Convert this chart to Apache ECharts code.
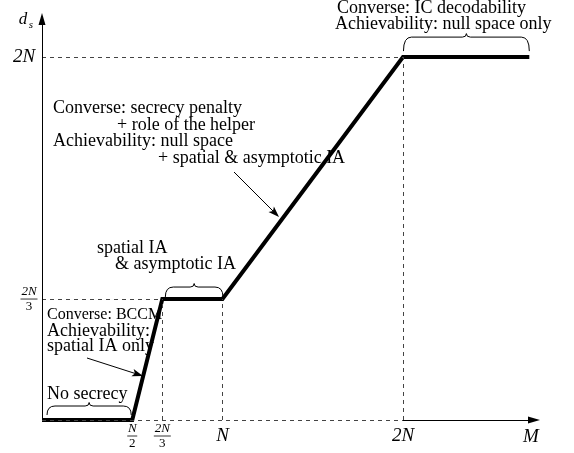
<!DOCTYPE html>
<html><head><meta charset="utf-8">
<script src="https://cdn.jsdelivr.net/npm/echarts@6/dist/echarts.min.js"></script>
<style>html,body{margin:0;padding:0;background:#fff}#c{width:574px;height:453px}</style>
</head><body><div id="c"></div>
<script>
// ---- data ----
const M  = [0, 0.5, 2/3, 1, 2, 2.7];        // x (in units of N)
const ds = [0, 0, 2/3, 2/3, 2, 2];          // d_s (in units of N)
const xTickValues = [0.5, 2/3, 1, 2];
const xTickLabels = [['N','2'], ['2N','3'], 'N', '2N'];
const yTickValues = [2/3, 2];
const yTickLabels = [['2N','3'], '2N'];
const xName = 'M';
const yName = 'd', yNameSub = 's';
const xMax = 2.726, yMax = 2.21;

const serif = '"Liberation Serif","Times New Roman",serif';
const chart = echarts.init(document.getElementById('c'));

const dash = {color:'#444', width:1, type:[4,4]};
const solid = {color:'#000', width:1, type:'solid'};
function seg(a, b, style, endSym){
  return [
    {coord:a, symbol:'none', lineStyle:style},
    {coord:b, symbol:endSym || 'none', symbolSize:[7,12]}
  ];
}
// guides from the curve's kink points
const guideData = [
  seg([0, ds[4]], [M[4], ds[4]], dash),
  seg([M[4], 0], [M[4], ds[4]], dash),
  seg([0, ds[2]], [M[2], ds[2]], dash),
  seg([M[2], 0], [M[2], ds[2]], dash),
  seg([M[3], 0], [M[3], ds[3]], dash),
  seg([0, 0], [M[4], 0], dash),
  seg([M[4], 0], [xMax, 0], solid, 'triangle'),
  seg([0, 0], [0, yMax], solid, 'triangle')
];

chart.setOption({
  animation:false,
  backgroundColor:'#fff',
  grid:{left:42, right:40, top:19, bottom:33, containLabel:false},
  xAxis:{type:'value', min:0, max:xMax, axisLine:{show:false}, axisTick:{show:false}, axisLabel:{show:false}, splitLine:{show:false}},
  yAxis:{type:'value', min:0, max:yMax, axisLine:{show:false}, axisTick:{show:false}, axisLabel:{show:false}, splitLine:{show:false}},
  series:[
    {type:'line', z:1, data:[], clip:false, silent:true,
     markLine:{silent:true, animation:false, label:{show:false}, emphasis:{disabled:true}, symbol:['none','none'], data:guideData}},
    {type:'line', z:3, clip:false, silent:true, symbol:'none',
     data:M.map((m,i)=>[m, ds[i]]),
     lineStyle:{color:'#000', width:4, join:'miter', cap:'butt'}}
  ]
});

const P = (x,y)=>chart.convertToPixel({gridIndex:0},[x,y]);
const g = [];
function txt(t, x, y, size){
  g.push({type:'text', x, y, z:10, silent:true,
    style:{text:t, font:size+'px '+serif, fill:'#000', align:'left', verticalAlign:'middle'}});
}
function hline(x1,x2,y){ g.push({type:'line', z:10, silent:true, shape:{x1,y1:y,x2,y2:y}, style:{stroke:'#000', lineWidth:0.8}}); }
function label(lab, cx, cy, big, small){
  if (Array.isArray(lab)){
    const w = lab[0].length>1 ? 17 : 10;
    hline(cx-w/2, cx+w/2, cy);
    g.push({type:'text', x:cx, y:cy-7, z:10, style:{text:lab[0], font:'italic '+small+'px '+serif, fill:'#000', align:'center', verticalAlign:'middle'}});
    g.push({type:'text', x:cx, y:cy+7.5, z:10, style:{text:lab[1], font:small+'px '+serif, fill:'#000', align:'center', verticalAlign:'middle'}});
  } else {
    g.push({type:'text', x:cx, y:cy, z:10, style:{text:lab, font:'italic '+big+'px '+serif, fill:'#000', align:'center', verticalAlign:'middle'}});
  }
}
// x tick labels
xTickValues.forEach((v,i)=>{ const p=P(v,0); label(xTickLabels[i], p[0], 436, 19, 13); });
// y tick labels
yTickValues.forEach((v,i)=>{ const p=P(0,v); label(yTickLabels[i], Array.isArray(yTickLabels[i])?29:24, p[1], 19, 13); });
// axis names
{ const p=P(xMax,0); g.push({type:'text', x:p[0]-3, y:437, z:10, style:{text:xName, font:'italic 19px '+serif, fill:'#000', align:'center', verticalAlign:'middle'}}); }
g.push({type:'text', x:23, y:20, z:10, style:{text:yName, font:'italic 17px '+serif, fill:'#000', align:'center', verticalAlign:'middle'}});
g.push({type:'text', x:31, y:25, z:10, style:{text:yNameSub, font:'italic 11px '+serif, fill:'#000', align:'center', verticalAlign:'middle'}});

// braces
function brace(xa, xb, yEnd, h){
  const r=8, r2=4, yH=yEnd-h, yT=yH-3.5, xm=(xa+xb)/2;
  const st={stroke:'#000', lineWidth:1, fill:null};
  const bz=(x1,y1,cx,cy,x2,y2)=>g.push({type:'bezierCurve', z:10, silent:true, shape:{x1,y1,cpx1:cx,cpy1:cy,x2,y2}, style:st});
  const ln=(x1,y1,x2,y2)=>g.push({type:'line', z:10, silent:true, shape:{x1,y1,x2,y2}, style:st});
  bz(xa,yEnd, xa,yH, xa+r,yH);
  ln(xa+r,yH, xm-r2,yH);
  bz(xm-r2,yH, xm,yH, xm,yT);
  bz(xm,yT, xm,yH, xm+r2,yH);
  ln(xm+r2,yH, xb-r,yH);
  bz(xb-r,yH, xb,yH, xb,yEnd);
}
{ const a=P(M[4],ds[4]), b=P(M[5],ds[5]); brace(a[0]+0.5, b[0], a[1]-6, 14); }
{ const a=P(M[2],ds[2]), b=P(M[3],ds[3]); brace(a[0]+3, b[0]+0.5, a[1]-2, 10); }
{ const a=P(M[0],ds[0]), b=P(M[1],ds[1]); brace(a[0]+5, b[0]-1, a[1]-5, 9); }

// arrows
function arrow(x1,y1,x2,y2){
  const dx=x2-x1, dy=y2-y1, L=Math.hypot(dx,dy), ux=dx/L, uy=dy/L;
  const hl=11, hw=3.8;
  const bx=x2-ux*hl, by=y2-uy*hl;
  g.push({type:'line', z:10, silent:true, shape:{x1,y1,x2:bx+ux*3,y2:by+uy*3}, style:{stroke:'#000', lineWidth:1}});
  g.push({type:'polygon', z:10, silent:true, shape:{points:[[x2,y2],[bx-uy*hw,by+ux*hw],[bx+ux*2.5,by+uy*2.5],[bx+uy*hw,by-ux*hw]]}, style:{fill:'#000'}});
}
arrow(234,172,279,217);
arrow(87,358,143,376);

// annotation texts
const notes = [
  ['Converse: IC decodability', 337, 8, 18],
  ['Achievability: null space only', 335, 24, 18],
  ['Converse: secrecy penalty', 53, 108, 18],
  ['+ role of the helper', 117, 125, 18],
  ['Achievability: null space', 53, 141, 18],
  ['+ spatial & asymptotic IA', 158, 158, 18],
  ['spatial IA', 97, 248, 18],
  ['& asymptotic IA', 115, 264, 18],
  ['Converse: BCCM', 47, 315, 16],
  ['Achievability:', 47, 331, 18],
  ['spatial IA only', 47, 346, 18],
  ['No secrecy', 47, 394, 18]
];
notes.forEach(n=>txt(n[0], n[1], n[2], n[3]));

chart.setOption({graphic:{elements:g}});
</script></body></html>
